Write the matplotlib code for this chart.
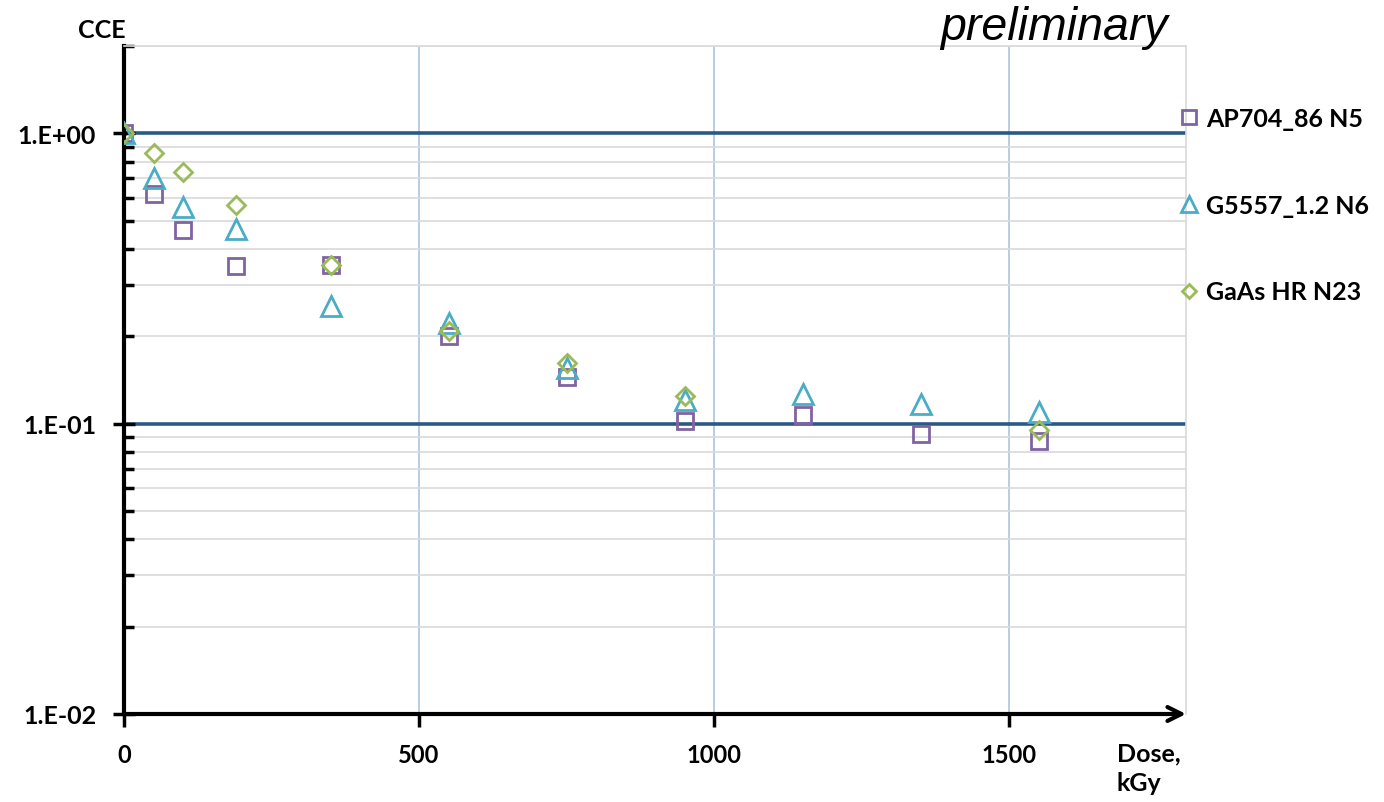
import matplotlib
matplotlib.use("Agg")
import matplotlib.pyplot as plt
from matplotlib.ticker import FixedLocator, LogLocator, NullFormatter
from matplotlib.lines import Line2D

# ---- data ----
dose_ap = [0, 50, 100, 190, 350, 550, 750, 950, 1150, 1350, 1550]
cce_ap = [1.0, 0.62, 0.463, 0.348, 0.351, 0.20, 0.145, 0.102, 0.107, 0.092, 0.087]

dose_g = [0, 50, 100, 190, 350, 550, 750, 950, 1150, 1350, 1550]
cce_g = [1.0, 0.70, 0.556, 0.47, 0.255, 0.223, 0.155, 0.121, 0.127, 0.117, 0.110]

dose_gaas = [0, 50, 100, 190, 350, 550, 750, 950, 1550]
cce_gaas = [1.0, 0.853, 0.734, 0.565, 0.353, 0.208, 0.162, 0.125, 0.095]

labels = ["AP704_86 N5", "G5557_1.2 N6", "GaAs HR N23"]
x_ticks = [0, 500, 1000, 1500]
y_ticks = [0.01, 0.1, 1.0]
y_ticklabels = ["1.E-02", "1.E-01", "1.E+00"]

C_AP = "#8064A2"
C_G = "#4BACC6"
C_GAAS = "#9BBB59"
FONT = "Lato"

fig = plt.figure(figsize=(13.84, 8.03), dpi=100)
ax = fig.add_axes([124/1384, 1-715/803, (1186-124)/1384, (715-47)/803])

ax.set_yscale("log")
ax.set_xlim(0, 1800)
ax.set_ylim(0.01, 2.0)

# grid
ax.yaxis.set_minor_locator(LogLocator(base=10, subs=range(2, 10)))
ax.yaxis.set_minor_formatter(NullFormatter())
ax.grid(which="minor", axis="y", color="#D9D9D9", lw=1.2, zorder=0)
for yv in [0.1, 1.0]:
    ax.axhline(yv, color="#2B5986", lw=2.6, zorder=1)
for xv in [500, 1000, 1500]:
    ax.axvline(xv, color="#B7CDE3", lw=1.4, zorder=0)

ms = 12
mew = 2.0
ax.plot(dose_ap, cce_ap, ls="none", marker="s", ms=ms, mfc="none", mec=C_AP, mew=mew, zorder=3)
ax.plot(dose_g, cce_g, ls="none", marker="^", ms=ms+2, mfc="none", mec=C_G, mew=mew, zorder=4)
ax.plot(dose_gaas, cce_gaas, ls="none", marker="D", ms=ms-3, mfc="none", mec=C_GAAS, mew=mew, zorder=5)
ax.plot([0], [1.0], ls="none", marker="o", ms=3, color="black", zorder=6)

# spines
for s in ["top", "right"]:
    ax.spines[s].set_color("#D9D9D9")
    ax.spines[s].set_linewidth(1.2)
ax.spines["bottom"].set_visible(False)
ax.spines["left"].set_color("black")
ax.spines["left"].set_linewidth(3)
ax.annotate("", xy=(1.0, 0.0), xytext=(0.0, 0.0), xycoords="axes fraction",
            textcoords="axes fraction",
            arrowprops=dict(arrowstyle="->,head_length=1.0,head_width=0.5", lw=3, color="black",
                            shrinkA=0, shrinkB=0), zorder=7, annotation_clip=False)

# ticks
ax.set_xticks(x_ticks)
ax.set_xticklabels([str(v) for v in x_ticks], fontsize=17, fontweight="bold", family=FONT)
ax.tick_params(axis="x", which="major", direction="out", length=9, width=2.5, pad=12, color="black")
ax.yaxis.set_major_locator(FixedLocator(y_ticks))
ax.set_yticklabels(y_ticklabels, fontsize=18, fontweight="bold", family=FONT)
ax.tick_params(axis="y", which="major", direction="inout", length=16, width=2.5, pad=12, color="black")
ax.tick_params(axis="y", which="minor", direction="in", length=7, width=2.5, color="black")

# axis titles
fig.text(102/1384, 1-30/803, "CCE", fontsize=18, fontweight="bold", family=FONT,
         ha="center", va="center")
fig.text(1117/1384, 1-769/803, "Dose,\nkGy", fontsize=18, fontweight="bold", family=FONT,
         ha="left", va="center", linespacing=1.35)
fig.text(1168/1384, 1-28/803, "preliminary", fontsize=33.5, style="italic",
         family="Liberation Sans", ha="right", va="center")

# legend
handles = [
    Line2D([], [], ls="none", marker="s", ms=10, mfc="none", mec=C_AP, mew=2),
    Line2D([], [], ls="none", marker="^", ms=12, mfc="none", mec=C_G, mew=2),
    Line2D([], [], ls="none", marker="D", ms=7, mfc="none", mec=C_GAAS, mew=2),
]
leg = ax.legend(handles, labels, loc="upper left", bbox_to_anchor=(1166/1384, 1-98/803),
                bbox_transform=fig.transFigure, frameon=False, handlelength=1.0,
                handletextpad=0.2, labelspacing=2.55, borderaxespad=0,
                prop=dict(family=FONT, weight="bold", size=18))

fig.savefig("out.png", dpi=100)
